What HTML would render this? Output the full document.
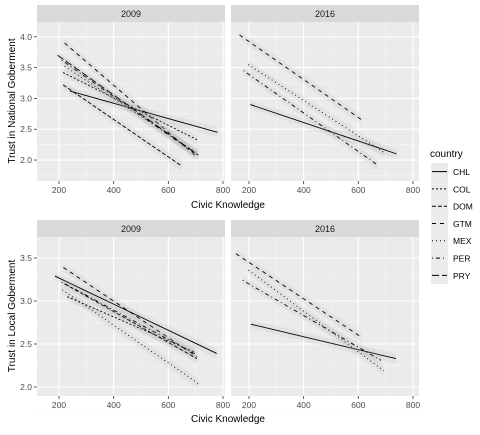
<!DOCTYPE html>
<html><head><meta charset="utf-8"><style>
body{margin:0;background:#fff;font-family:"Liberation Sans",Arial,sans-serif}
svg text{font-family:"Liberation Sans",Arial,sans-serif}
</style></head><body>
<svg id="c" width="480" height="430" xmlns="http://www.w3.org/2000/svg"></svg>
<script>
const countries = ["CHL","COL","DOM","GTM","MEX","PER","PRY"];
const dashes = ["", "2,2", "4,2", "4,4", "1,3", "1,3,4,3", "7,3"];
const xTicks = [200,400,600,800];
const yTicksTop = [2.0,2.5,3.0,3.5,4.0];
const yTicksBot = [2.0,2.5,3.0,3.5];
// segments: [country index, x1, y1, x2, y2]
const nat2009 = [[0,240,3.12,780,2.45],[1,215,3.42,705,2.33],[2,215,3.22,650,1.9],[3,220,3.9,700,2.07],[4,220,3.52,710,2.1],[5,210,3.62,700,2.1],[6,195,3.7,710,2.08]];
const nat2016 = [[0,205,2.9,740,2.1],[4,197,3.55,695,2.12],[5,180,3.45,670,1.92],[3,165,4.03,610,2.66]];
const loc2009 = [[0,185,3.29,777,2.39],[3,216,3.39,705,2.35],[4,212,3.13,710,2.04],[1,230,3.05,700,2.4],[2,220,3.2,705,2.33],[5,210,3.22,700,2.38]];
const loc2016 = [[0,207,2.73,738,2.33],[3,152,3.55,611,2.58],[4,198,3.36,693,2.19],[5,177,3.24,683,2.31]];

const svg=document.getElementById('c');
const NS="http://www.w3.org/2000/svg";
function mk(t,a,p){const e=document.createElementNS(NS,t);for(const k in a)e.setAttribute(k,a[k]);(p||svg).appendChild(e);return e;}

function panel(px,py,pw,ph,title,xmin,xmax,ymin,ymax,yTicks,segs,showY,name){
  const g=mk('g',{});
  
  
  const sx=v=>px+(v-xmin)/(xmax-xmin)*pw;
  const sy=v=>py+ph-(v-ymin)/(ymax-ymin)*ph;
  const strip=mk('rect',{x:px,y:py-17,width:pw,height:17,fill:'#d9d9d9'},g);
  
  
  const st=mk('text',{x:px+pw/2,y:py-5,'font-size':9,'text-anchor':'middle',fill:'#1a1a1a'},g);st.textContent=title;
  mk('rect',{x:px,y:py,width:pw,height:ph,fill:'#ebebeb'},g);
  for(let i=0;i<xTicks.length-1;i++){const m=(xTicks[i]+xTicks[i+1])/2;mk('line',{x1:sx(m),x2:sx(m),y1:py,y2:py+ph,stroke:'#f5f5f5','stroke-width':0.6},g);}
  for(let i=0;i<yTicks.length-1;i++){const m=(yTicks[i]+yTicks[i+1])/2;mk('line',{x1:px,x2:px+pw,y1:sy(m),y2:sy(m),stroke:'#f5f5f5','stroke-width':0.6},g);}
  mk('line',{x1:px,x2:px+pw,y1:sy(yTicks[0]-0.25),y2:sy(yTicks[0]-0.25),stroke:'#f5f5f5','stroke-width':0.6},g);
  xTicks.forEach(v=>{mk('line',{x1:sx(v),x2:sx(v),y1:py,y2:py+ph,stroke:'#fff','stroke-width':1.1},g);
    mk('line',{x1:sx(v),x2:sx(v),y1:py+ph,y2:py+ph+3,stroke:'#333','stroke-width':0.8},g);
    const t=mk('text',{x:sx(v),y:py+ph+12,'font-size':8.5,'text-anchor':'middle',fill:'#4d4d4d'},g);t.textContent=v;});
  yTicks.forEach(v=>{mk('line',{x1:px,x2:px+pw,y1:sy(v),y2:sy(v),stroke:'#fff','stroke-width':1.1},g);
    if(showY){mk('line',{x1:px-3,x2:px,y1:sy(v),y2:sy(v),stroke:'#333','stroke-width':0.8},g);
    const t=mk('text',{x:px-5,y:sy(v)+3,'font-size':8.5,'text-anchor':'end',fill:'#4d4d4d'},g);t.textContent=v.toFixed(1);}});
  segs.forEach(s=>{const [c,x1,y1,x2,y2]=s;
    const rb=mk('polygon',{points:`${sx(x1)},${sy(y1)-4} ${sx(x2)},${sy(y2)-5} ${sx(x2)},${sy(y2)+5} ${sx(x1)},${sy(y1)+4}`,fill:'#999','fill-opacity':0.12},g);
    
    
    const l=mk('line',{x1:sx(x1),y1:sy(y1),x2:sx(x2),y2:sy(y2),stroke:'#000','stroke-width':0.9,'stroke-dasharray':dashes[c]},g);
    
    });
}
const xmin=200-(59-37)/0.2733, xmax=200+(225-59)/0.2733;
const xmin2=xmin-((249-231)/0.2733-(59-37)/0.2733);
panel(37,22,188,159,'2009',xmin,xmax,1.66,4.24,yTicksTop,nat2009,true,'panel-national-2009');
panel(231,22,188,159,'2016',xmin2,xmin2+(xmax-xmin),1.66,4.24,yTicksTop,nat2016,false,'panel-national-2016');
panel(37,237,188,159,'2009',xmin,xmax,3.5-(396-258)/86,3.5+(258-237)/86,yTicksBot,loc2009,true,'panel-local-2009');
panel(231,237,188,159,'2016',xmin2,xmin2+(xmax-xmin),3.5-(396-258)/86,3.5+(258-237)/86,yTicksBot,loc2016,false,'panel-local-2016');

function txt(x,y,s,size,name,rot){const t=mk('text',{x:x,y:y,'font-size':size,'text-anchor':'middle',fill:'#000'});if(rot)t.setAttribute('transform',`rotate(-90 ${x} ${y})`);t.textContent=s;
  
  }
txt(228,208,'Civic Knowledge',10,'x-axis-title-top');
txt(228,422,'Civic Knowledge',10,'x-axis-title-bottom');
txt(15,101,'Trust in National Goberment',10,'y-axis-title-top',true);
txt(15,316,'Trust in Local Goberment',10,'y-axis-title-bottom',true);
const lt=mk('text',{x:430,y:157,'font-size':10,fill:'#000'});lt.textContent='country';


countries.forEach((c,i)=>{const y=163+i*17.3;
  const g=mk('g',{});
  
  
  mk('rect',{x:431,y:y,width:17,height:17.3,fill:'#ebebeb'},g);
  mk('line',{x1:432,x2:447,y1:y+8.6,y2:y+8.6,stroke:'#000','stroke-width':1,'stroke-dasharray':dashes[i]},g);
  const t=mk('text',{x:453,y:y+12,'font-size':8.5,fill:'#000'},g);t.textContent=c;});
</script>
</body></html>
